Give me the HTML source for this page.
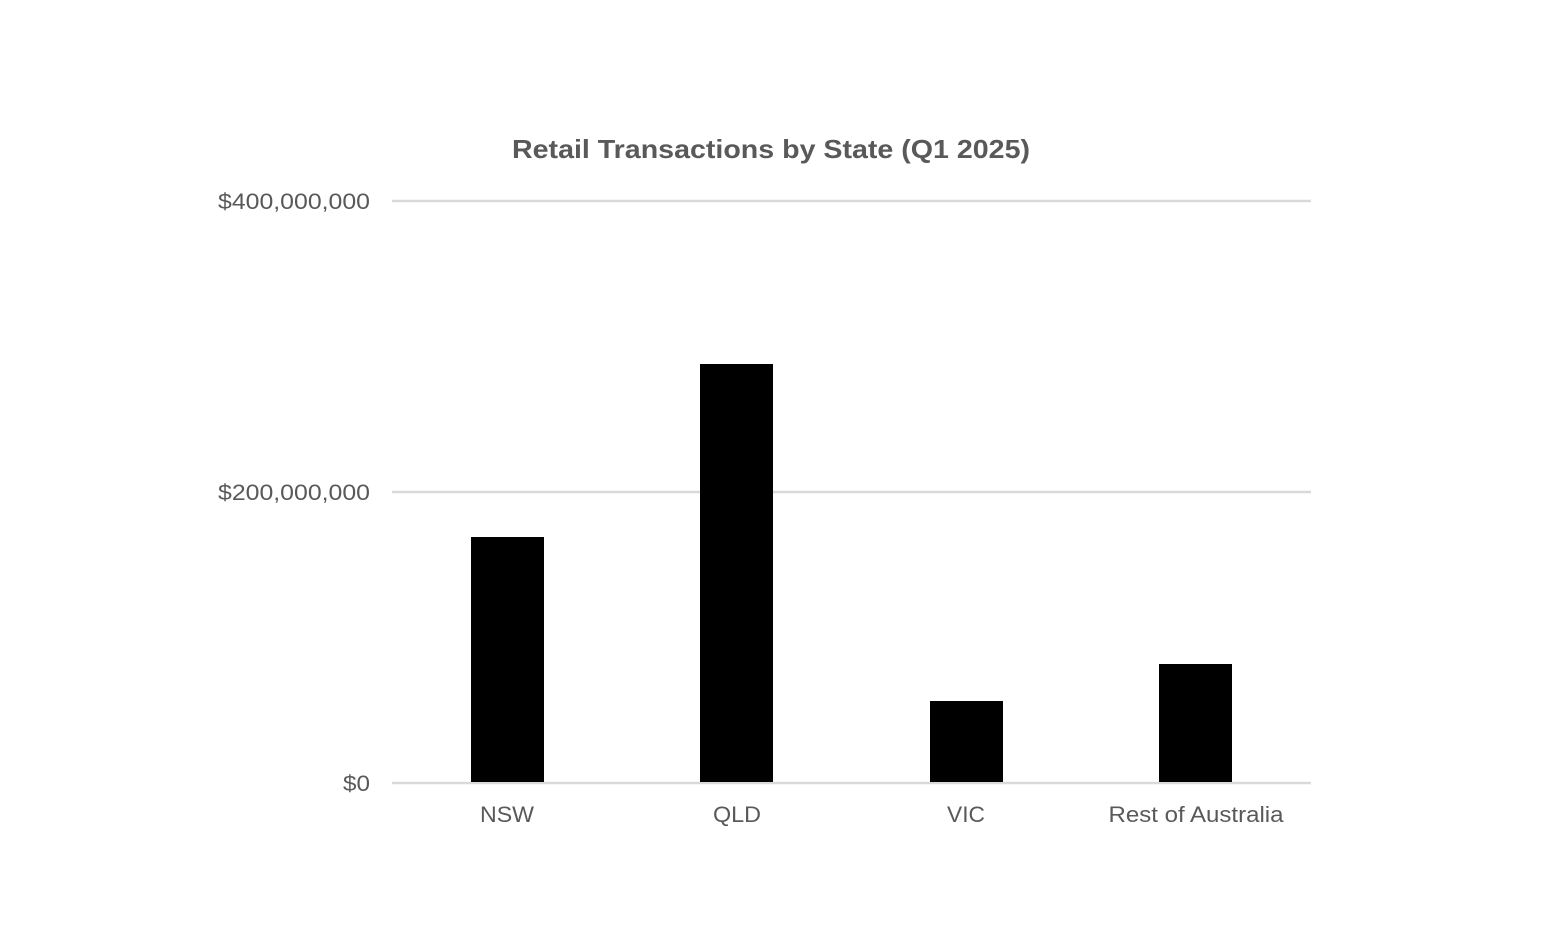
<!DOCTYPE html>
<html><head><meta charset="utf-8"><style>
html,body{margin:0;padding:0;background:#fff;}
</style></head><body>
<svg width="1548" height="931" xmlns="http://www.w3.org/2000/svg" style="display:block">
<rect width="1548" height="931" fill="#fff"/>
<text x="771" y="158" text-anchor="middle" textLength="518" lengthAdjust="spacingAndGlyphs" font-family="Liberation Sans, sans-serif" font-size="26" font-weight="bold" fill="#595959">Retail Transactions by State (Q1 2025)</text>
<g stroke="#d9d9d9" stroke-width="2.5">
<line x1="392" y1="201" x2="1311" y2="201"/>
<line x1="392" y1="492" x2="1311" y2="492"/>
<line x1="392" y1="783" x2="1311" y2="783"/>
</g>
<g font-family="Liberation Sans, sans-serif" font-size="22" fill="#595959">
<text x="370" y="209" text-anchor="end" textLength="152" lengthAdjust="spacingAndGlyphs">$400,000,000</text>
<text x="370" y="500" text-anchor="end" textLength="152" lengthAdjust="spacingAndGlyphs">$200,000,000</text>
<text x="370" y="791" text-anchor="end" textLength="27" lengthAdjust="spacingAndGlyphs">$0</text>
<text x="507" y="822" text-anchor="middle" textLength="54" lengthAdjust="spacingAndGlyphs">NSW</text>
<text x="737" y="822" text-anchor="middle" textLength="48" lengthAdjust="spacingAndGlyphs">QLD</text>
<text x="966" y="822" text-anchor="middle" textLength="38" lengthAdjust="spacingAndGlyphs">VIC</text>
<text x="1196" y="822" text-anchor="middle" textLength="175" lengthAdjust="spacingAndGlyphs">Rest of Australia</text>
</g>
<g fill="#000">
<rect x="471" y="537" width="73" height="245"/>
<rect x="700" y="364" width="73" height="418"/>
<rect x="930" y="701" width="73" height="81"/>
<rect x="1159" y="664" width="73" height="118"/>
</g>
</svg>
</body></html>
